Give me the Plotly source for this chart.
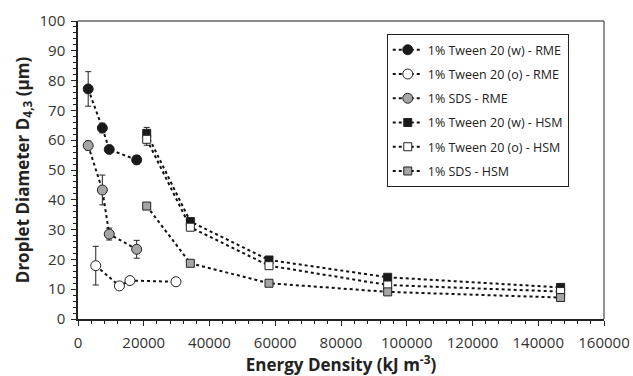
import plotly.graph_objects as go

# ---- data ----
names = ["1% Tween 20 (w) - RME", "1% Tween 20 (o) - RME", "1% SDS - RME",
         "1% Tween 20 (w) - HSM", "1% Tween 20 (o) - HSM", "1% SDS - HSM"]

rme_w_x = [3100, 7400, 9500, 17850]
rme_w_y = [77.2, 64.1, 56.9, 53.4]
rme_w_e = [5.8, 1.6, 1.0, 1.4]

rme_o_x = [5400, 12600, 15800, 29800]
rme_o_y = [17.9, 11.1, 12.9, 12.5]
rme_o_e = [6.5, 0, 0, 0]

rme_s_x = [3100, 7400, 9500, 17850]
rme_s_y = [58.2, 43.3, 28.5, 23.4]
rme_s_e = [1.5, 5.0, 2.0, 3.0]

hsm_x = [20900, 34170, 58100, 94200, 146800]
hsm_w_y = [62.3, 32.7, 19.8, 14.0, 10.6]
hsm_w_e = [2.0, 0.8, 0.5, 0.5, 0.5]
hsm_o_y = [60.3, 30.8, 17.9, 11.4, 9.2]
hsm_o_e = [2.0, 0, 0, 0, 0]
hsm_s_y = [37.9, 18.7, 12.0, 9.1, 7.2]
hsm_s_e = [0, 0, 0, 0, 0]

x_ticks = [0, 20000, 40000, 60000, 80000, 100000, 120000, 140000, 160000]
y_ticks = [0, 10, 20, 30, 40, 50, 60, 70, 80, 90, 100]

BLACK = "#1a1a1a"
GRAY = "#a5a5a5"
WHITE = "#ffffff"

series = [
    (names[0], rme_w_x, rme_w_y, rme_w_e, "circle", BLACK, 10),
    (names[1], rme_o_x, rme_o_y, rme_o_e, "circle", WHITE, 10),
    (names[2], rme_s_x, rme_s_y, rme_s_e, "circle", GRAY, 10),
    (names[3], hsm_x, hsm_w_y, hsm_w_e, "square", BLACK, 8),
    (names[4], hsm_x, hsm_o_y, hsm_o_e, "square", WHITE, 8),
    (names[5], hsm_x, hsm_s_y, hsm_s_e, "square", GRAY, 8),
]

fig = go.Figure()
for i, (nm, xs, ys, es, sym, col, sz) in enumerate(series):
    fig.add_trace(go.Scatter(
        x=xs, y=ys, name=nm, mode="lines+markers", legendgroup=str(i),
        line=dict(color="#111111", width=2, dash="dot"),
        marker=dict(symbol=sym, size=sz, color=col, line=dict(color="#222222", width=1)),
        error_y=dict(type="data", array=es, visible=True, color="#222222", thickness=1, width=3),
    ))

font_family = "Open Sans, Liberation Sans, sans-serif"
fig.update_layout(
    width=633, height=376,
    margin=dict(l=78, r=29, t=21, b=57),
    paper_bgcolor="white", plot_bgcolor="white",
    font=dict(family=font_family, color="#333333"),
    showlegend=True,
    legend=dict(
        x=0.587, y=0.956, xanchor="left", yanchor="top",
        bordercolor="#222222", borderwidth=1, bgcolor="white",
        font=dict(size=12.5, color="#222222", family=font_family),
        tracegroupgap=5, itemwidth=30,
    ),
    xaxis=dict(
        range=[0, 160000], tickvals=x_ticks, ticktext=[str(v) for v in x_ticks],
        showgrid=False, zeroline=False, showline=True, linecolor="#222222", linewidth=1.5,
        ticks="outside", ticklen=5, tickcolor="#222222", tickwidth=1,
        minor=dict(dtick=4000, ticks="outside", ticklen=3, tickcolor="#222222", showgrid=False),
        tickfont=dict(size=15, color="#333333"), ticklabelstandoff=4,
        automargin=False,
        title=dict(text="<b>Energy Density (kJ m<sup>-3</sup>)</b>", font=dict(size=17, color="#222222"), standoff=8),
    ),
    yaxis=dict(
        range=[0, 100], tickvals=y_ticks,
        showgrid=False, zeroline=False, showline=True, linecolor="#222222", linewidth=1.5,
        ticks="outside", ticklen=5, tickcolor="#222222", tickwidth=1,
        minor=dict(dtick=2, ticks="outside", ticklen=3, tickcolor="#222222", showgrid=False),
        tickfont=dict(size=15, color="#333333"), ticklabelstandoff=3,
        automargin=False,
        title=dict(text="<b>Droplet Diameter D<sub>4,3</sub> (µm)</b>", font=dict(size=17, color="#222222"), standoff=6),
    ),
    shapes=[
        dict(type="line", xref="paper", yref="paper", x0=0, x1=1, y0=1, y1=1,
             line=dict(color="#8c8c8c", width=2)),
        dict(type="line", xref="paper", yref="paper", x0=1, x1=1, y0=0, y1=1,
             line=dict(color="#222222", width=1)),
    ],
)

fig.write_html("out.html")
